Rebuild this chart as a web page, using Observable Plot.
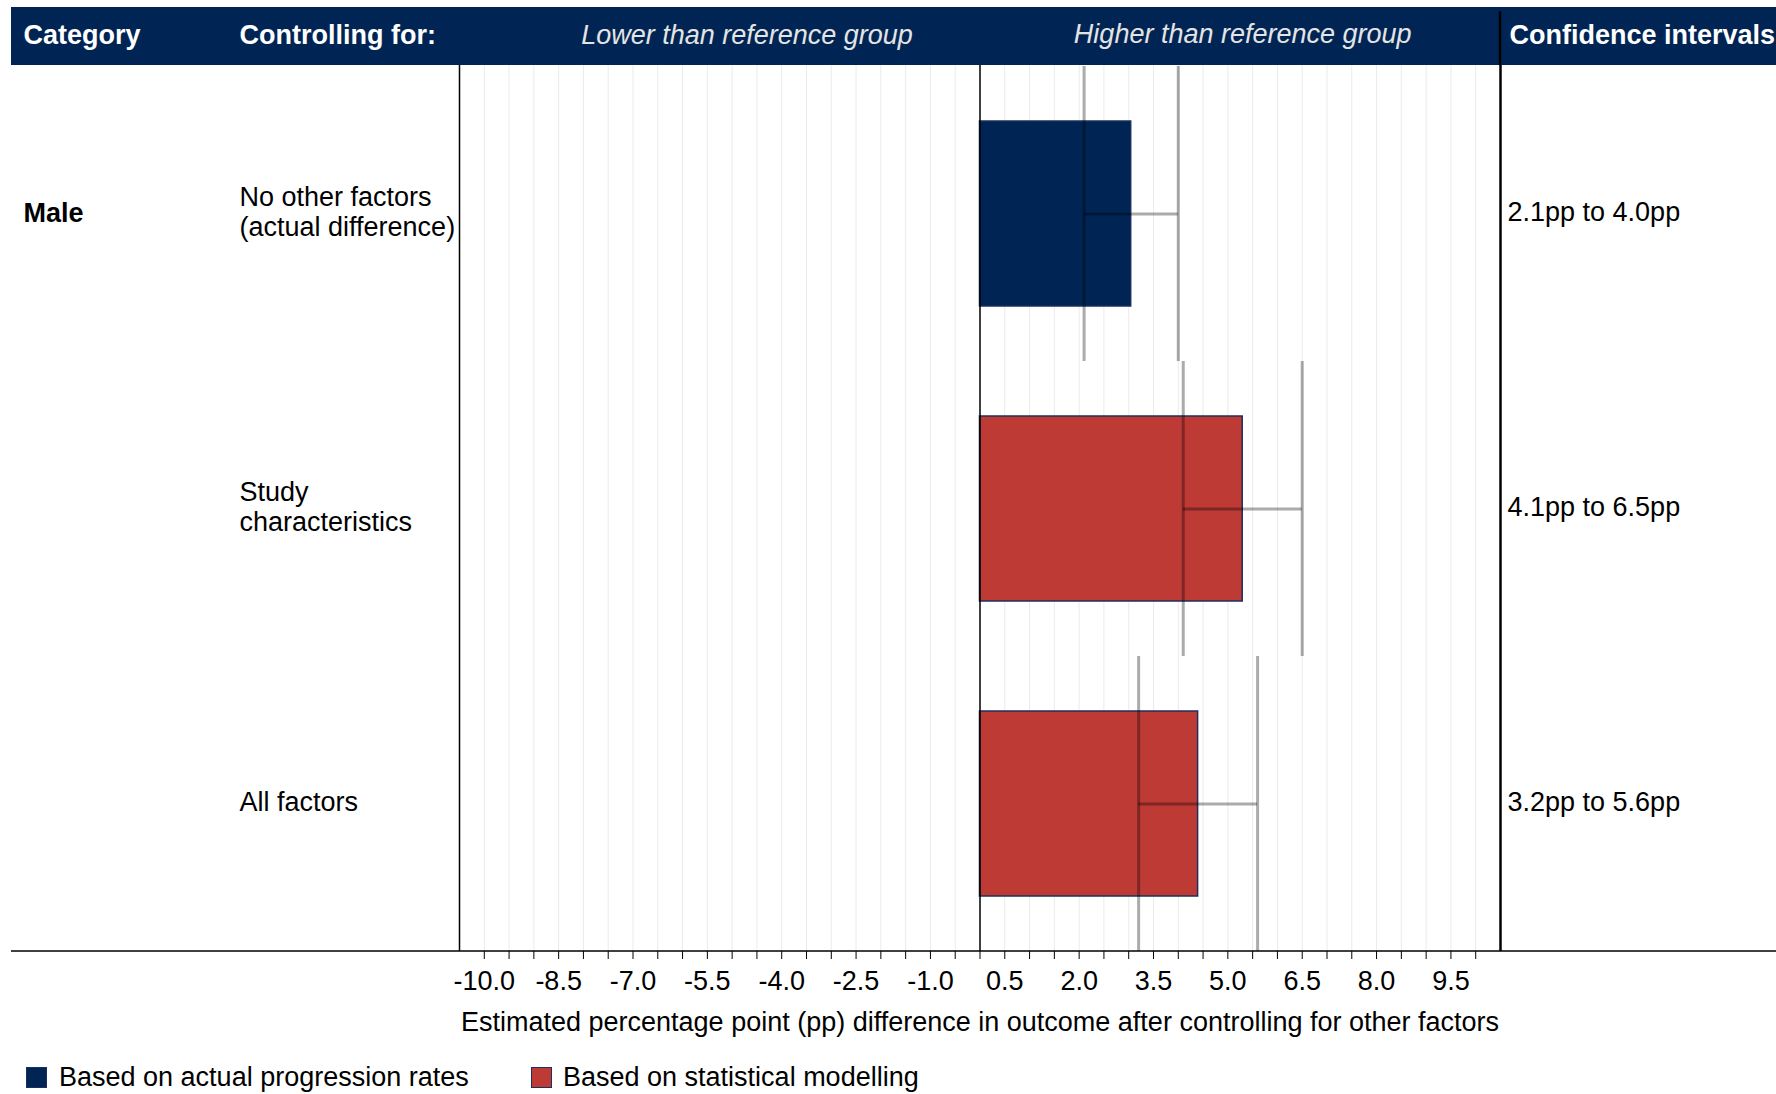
<!DOCTYPE html>
<html><head><meta charset="utf-8">
<script src="https://cdn.jsdelivr.net/npm/d3@7"></script>
<script src="https://cdn.jsdelivr.net/npm/@observablehq/plot@0.6"></script>
<style>
body{margin:0;background:#fff;font-family:"Liberation Sans",Arial,sans-serif;}
#chart{width:1776px;}
.legend{position:relative;width:1776px;height:44px;font-size:27px;color:#000;}
.legend .sw{position:absolute;top:17px;width:21px;height:21px;box-sizing:border-box;}
.legend .lb{position:absolute;top:12px;line-height:30px;white-space:nowrap;}
</style></head><body><div id="chart"></div><script>
// ---- data ----
const categories = ["Male", "", ""];
const controls = ["No other factors\n(actual difference)", "Study\ncharacteristics", "All factors"];
const estimates = [3.05, 5.3, 4.4];
const ciLow = [2.1, 4.1, 3.2];
const ciHigh = [4.0, 6.5, 5.6];
const basis = ["Based on actual progression rates", "Based on statistical modelling", "Based on statistical modelling"];
const legendLabels = ["Based on actual progression rates", "Based on statistical modelling"];
const tickLabels = [-10.0, -8.5, -7.0, -5.5, -4.0, -2.5, -1.0, 0.5, 2.0, 3.5, 5.0, 6.5, 8.0, 9.5];
const headerLeft = ["Category", "Controlling for:"];
const headerHalves = ["Lower than reference group", "Higher than reference group"];
const headerRight = "Confidence intervals";
const axisTitle = "Estimated percentage point (pp) difference in outcome after controlling for other factors";

const NAVY = "#002554", RED = "#bd3a35";
const tickValues = d3.range(-20, 21).map(d => d / 2);
const gridValues = tickValues.filter(d => d !== 0);
const labelSet = new Set(tickLabels.map(d => d.toFixed(1)));

const rows = controls.map((c, i) => ({
  category: categories[i], control: c, estimate: estimates[i],
  lo: ciLow[i], hi: ciHigh[i], basis: basis[i],
  ci: `${ciLow[i].toFixed(1)}pp to ${ciHigh[i].toFixed(1)}pp`
}));

const FONT = '"Liberation Sans", Arial, sans-serif';
const W = 1776, H = 1050, ML = 459, MR = 276, MT = 65, MB = 99;

const plot = Plot.plot({
  width: W, height: H,
  marginLeft: ML, marginRight: MR, marginTop: MT, marginBottom: MB,
  style: {fontFamily: FONT, fontSize: "27px", color: "#000", background: "transparent", overflow: "visible"},
  x: {domain: [-10.5, 10.5], label: null},
  y: {domain: controls, padding: 0, axis: null, label: null},
  color: {domain: legendLabels, range: [NAVY, RED]},
  marks: [
    Plot.ruleX(gridValues, {stroke: "#ebebeb", strokeWidth: 1}),
    Plot.barX(rows, {x: "estimate", y: "control", fill: "basis", stroke: "#1c2f5e", strokeWidth: 1.5, insetTop: 55, insetBottom: 55}),
    Plot.tickX(rows, {x: "lo", y: "control", stroke: "#000", strokeOpacity: 0.33, strokeWidth: 3}),
    Plot.tickX(rows, {x: "hi", y: "control", stroke: "#000", strokeOpacity: 0.33, strokeWidth: 3}),
    Plot.ruleY(rows, {y: "control", x1: "lo", x2: "hi", stroke: "#000", strokeOpacity: 0.33, strokeWidth: 3}),
    Plot.ruleX([-10.5], {stroke: "#000", strokeWidth: 1.5}),
    Plot.ruleX([0], {stroke: "#000", strokeWidth: 1.5}),
    Plot.ruleX([10.5], {stroke: "#000", strokeWidth: 2.5}),
    Plot.axisX({ticks: tickValues, tickSize: 8, tickPadding: 11, stroke: "#000",
      tickFormat: d => labelSet.has(d.toFixed(1)) ? d.toFixed(1) : "", fontSize: 27, fill: "#000"}),
    Plot.text([axisTitle], {frameAnchor: "bottom", lineAnchor: "middle", dy: 71, fontSize: 27, fill: "#000"}),
    // row labels
    Plot.text(rows, {y: "control", text: "category", frameAnchor: "left", dx: -436, dy: -1, textAnchor: "start", fontWeight: "bold", fontSize: 27, fill: "#000"}),
    Plot.text(rows, {y: "control", text: "control", frameAnchor: "left", dx: -220, dy: -3, textAnchor: "start", fontSize: 27, lineHeight: 1.13, fill: "#000"}),
    Plot.text(rows, {y: "control", text: "ci", frameAnchor: "right", dx: 7, dy: -2, textAnchor: "start", fontSize: 27, fill: "#000"}),
    // header
    Plot.text([headerLeft[0]], {frameAnchor: "top-left", lineAnchor: "middle", dx: -436, dy: -30, textAnchor: "start", fontWeight: "bold", fontSize: 27, fill: "#fff"}),
    Plot.text([headerLeft[1]], {frameAnchor: "top-left", lineAnchor: "middle", dx: -220, dy: -30, textAnchor: "start", fontWeight: "bold", fontSize: 27, fill: "#fff"}),
    Plot.text([headerHalves[0]], {x: -4.7, frameAnchor: "top", lineAnchor: "middle", dy: -30, fontStyle: "italic", fontSize: 27, fill: "#e4e4e4"}),
    Plot.text([headerHalves[1]], {x: 5.3, frameAnchor: "top", lineAnchor: "middle", dy: -31, fontStyle: "italic", fontSize: 27, fill: "#e4e4e4"}),
    Plot.text([headerRight], {frameAnchor: "top-right", lineAnchor: "middle", dx: 9, dy: -30, textAnchor: "start", fontWeight: "bold", fontSize: 27, fill: "#fff"})
  ]
});

// decorations: header band, full-width axis line, right border extension
const svg = d3.select(plot);
svg.insert("rect", ":first-child")
  .attr("x", 11).attr("y", 7).attr("width", W - 11).attr("height", MT - 7).attr("fill", NAVY);
svg.append("line").attr("x1", 11).attr("x2", W).attr("y1", H - MB).attr("y2", H - MB)
  .attr("stroke", "#000").attr("stroke-width", 1.5);
svg.append("line").attr("x1", W - MR).attr("x2", W - MR).attr("y1", 11).attr("y2", MT)
  .attr("stroke", "#000").attr("stroke-width", 2.5);

document.getElementById("chart").appendChild(plot);

// legend
const color = plot.scale("color");
const legend = d3.select("#chart").append("div").attr("class", "legend");
const pos = [[26, 59], [531, 563]];
legendLabels.forEach((l, i) => {
  legend.append("span").attr("class", "sw").style("left", pos[i][0] + "px")
    .style("background", color.apply(l)).style("border", "1.5px solid #1c2f5e");
  legend.append("span").attr("class", "lb").style("left", pos[i][1] + "px").text(l);
});
</script></body></html>
